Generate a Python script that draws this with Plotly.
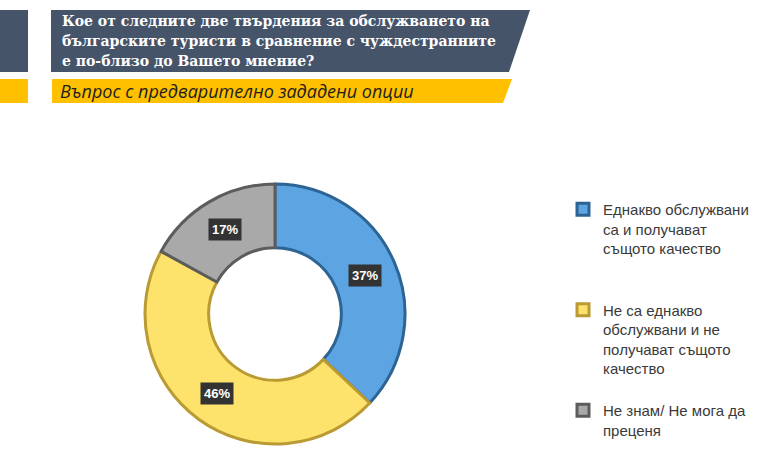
import math
import plotly.graph_objects as go

# ---- data ----
labels = [
    "Еднакво обслужвани<br>са и получават<br>същото качество<br> <br> ",
    "Не са еднакво<br>обслужвани и не<br>получават същото<br>качество<br> ",
    "Не знам/ Не мога да<br>преценя",
]
values = [37, 46, 17]
pct_text = ["37%", "46%", "17%"]
title_lines = [
    "Кое от следните две твърдения за обслужването на",
    "българските туристи в сравнение с чуждестранните",
    "е по-близо до Вашето мнение?",
]
subtitle = "Въпрос с предварително зададени опции"

# ---- style ----
W, H = 768, 475
fill_colors = ["#5DA4E2", "#FDE26C", "#A9A9A9"]
edge_colors = ["#2E6494", "#B99A33", "#5C5C5C"]
dark = "#46546A"
yellow = "#FFC000"

cx, cy, R = 275, 314, 130
hole = 0.51

fig = go.Figure()
fig.add_trace(go.Pie(
    labels=labels, values=values, sort=False, direction="clockwise", rotation=0,
    hole=hole, textinfo="none", hoverinfo="label+percent",
    marker=dict(colors=fill_colors, line=dict(color=edge_colors, width=3)),
    domain=dict(x=[(cx - R) / W, (cx + R) / W], y=[(H - cy - R) / H, (H - cy + R) / H]),
))

# percent labels placed at mid-angle of each slice (computed from data)
total = sum(values)
cum = 0
rmid = R * (1 + hole) / 2
for v, t in zip(values, pct_text):
    mid = (cum + v / 2) / total * 2 * math.pi
    cum += v
    px = cx + rmid * math.sin(mid)
    py = cy - rmid * math.cos(mid)
    fig.add_annotation(x=px / W, y=1 - py / H, xref="paper", yref="paper", text=f"<b>{t}</b>",
                       xanchor="center", yanchor="middle",
                       showarrow=False, font=dict(family="Liberation Sans, Arial", size=13, color="white"),
                       bgcolor="#333333", borderpad=3)

# header banners
shapes = [
    dict(type="rect", x0=0, x1=28, y0=10, y1=72, fillcolor=dark),
    dict(type="path", path="M 51 10 L 530 10 L 509 72 L 51 72 Z", fillcolor=dark),
    dict(type="rect", x0=0, x1=28, y0=79, y1=103, fillcolor=yellow),
    dict(type="path", path="M 52 79 L 512 79 L 503 103 L 52 103 Z", fillcolor=yellow),
]
for s in shapes:
    s.update(xref="x", yref="y", line=dict(width=0), layer="below")
    fig.add_shape(**s)

for i, line in enumerate(title_lines):
    fig.add_annotation(x=60 / W, y=1 - (21 + 20 * i) / H, xref="paper", yref="paper",
                       xanchor="left", yanchor="middle", text=f"<b>{line}</b>", showarrow=False,
                       font=dict(family="DejaVu Serif", size=14, color="white"))
fig.add_annotation(x=58 / W, y=1 - 91 / H, xref="paper", yref="paper", xanchor="left", yanchor="middle",
                   text=subtitle, showarrow=False,
                   font=dict(family="Open Sans", size=18, color="#1E1E1E", style="italic"))

fig.update_layout(
    width=W, height=H, margin=dict(l=0, r=0, t=0, b=0),
    paper_bgcolor="white", plot_bgcolor="white",
    xaxis=dict(range=[0, W], visible=False, fixedrange=True),
    yaxis=dict(range=[H, 0], visible=False, fixedrange=True),
    showlegend=True,
    legend=dict(x=563 / W, y=1 - 193 / H, xanchor="left", yanchor="top", valign="top",
                font=dict(family="Liberation Sans, Arial", size=15, color="#3A3A3A"),
                bgcolor="rgba(0,0,0,0)"),
)
fig.write_html("out.html")
